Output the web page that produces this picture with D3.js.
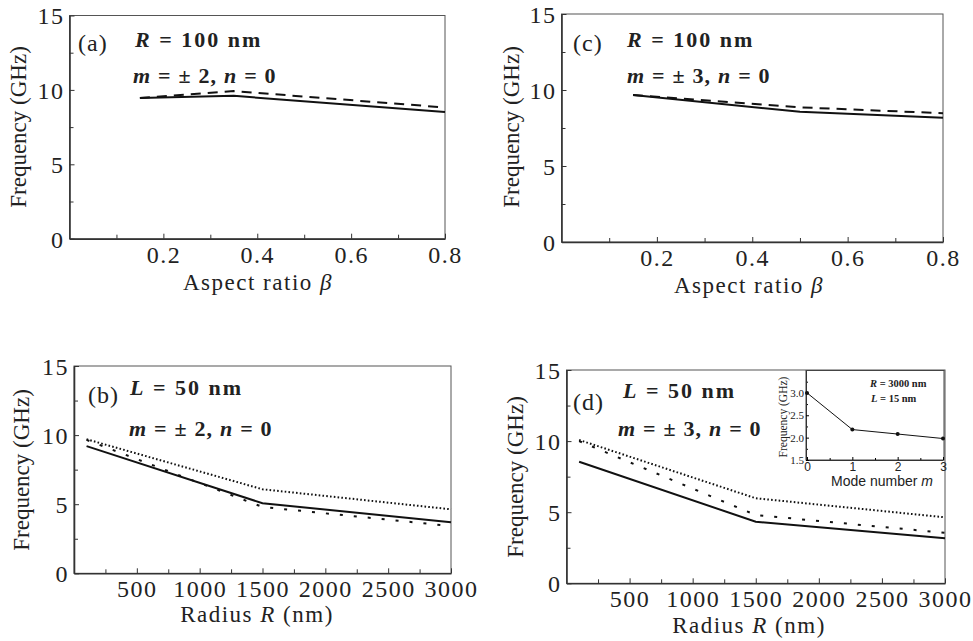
<!DOCTYPE html>
<html>
<head>
<meta charset="utf-8">
<script src="https://cdn.jsdelivr.net/npm/d3@7"></script>
<style>
  body { margin: 0; background: #fff; }
  text { font-family: "Liberation Serif", "Times New Roman", serif; fill: #222; }
  .sans { font-family: "Liberation Sans", Arial, sans-serif; }
</style>
</head>
<body>
<svg width="973" height="641"></svg>
<script>
// ---- data ----
var betaA = [0.15, 0.35, 0.8];
var solidA = [9.45, 9.6, 8.52];
var dashA = [9.45, 9.92, 8.82];

var betaC = [0.15, 0.5, 0.8];
var solidC = [9.67, 8.57, 8.18];
var dashC = [9.67, 8.86, 8.47];

var radius = [100, 1500, 3000];
var solidB = [9.2, 5.07, 3.7];
var dotB = [9.7, 6.08, 4.63];
var sparseB = [9.65, 4.8, 3.42];

var solidD = [8.55, 4.33, 3.16];
var dotD = [10.08, 5.98, 4.64];
var sparseD = [10.0, 4.8, 3.55];

var modeM = [0, 1, 2, 3];
var insetF = [3.0, 2.18, 2.08, 1.98];

var freqTicks = [0, 5, 10, 15];
var betaTicks = [0.2, 0.4, 0.6, 0.8];
var radiusTicks = [500, 1000, 1500, 2000, 2500, 3000];

function main(){
    var svg = d3.select("svg");

    var styles = {
        solid: null,
        dash: "10,7",
        dot: "1.6,2.2",
        sparse: "3,11"
    };

    function panel(box, xDomain, xMajor, xMinor, xFmt, xTitle, series, labels){
        var x = d3.scaleLinear().domain(xDomain).range([box.left, box.right]),
            y = d3.scaleLinear().domain([0, 15]).range([box.bottom, box.top]);
        var g = svg.append("g");

        // frame
        g.append("rect")
            .attr("x", box.left).attr("y", box.top)
            .attr("width", box.right - box.left)
            .attr("height", box.bottom - box.top)
            .attr("fill", "none").attr("stroke", "#555").attr("stroke-width", 1);

        // minor ticks
        g.append("g")
            .attr("transform", "translate(0," + box.bottom + ")")
            .call(d3.axisBottom(x).tickValues(xMinor).tickSizeInner(-4).tickSizeOuter(0).tickFormat(""))
            .call(function(a){ a.select(".domain").remove(); a.selectAll("line").attr("stroke", "#333"); });
        g.append("g")
            .attr("transform", "translate(" + box.left + ",0)")
            .call(d3.axisLeft(y).tickValues([2.5, 7.5, 12.5]).tickSizeInner(-4).tickSizeOuter(0).tickFormat(""))
            .call(function(a){ a.select(".domain").remove(); a.selectAll("line").attr("stroke", "#333"); });

        // major axes
        var xa = g.append("g")
            .attr("transform", "translate(0," + box.bottom + ")")
            .call(d3.axisBottom(x).tickValues(xMajor).tickSizeInner(-5).tickSizeOuter(0).tickPadding(6).tickFormat(xFmt));
        var ya = g.append("g")
            .attr("transform", "translate(" + box.left + ",0)")
            .call(d3.axisLeft(y).tickValues(freqTicks).tickSizeInner(-5).tickSizeOuter(0).tickPadding(5));
        [xa, ya].forEach(function(a){
            a.select(".domain").attr("stroke", "#333").attr("stroke-width", 1.6);
            a.selectAll("line").attr("stroke", "#333");
            a.selectAll("text")
                .attr("font-family", "Liberation Serif")
                .attr("font-size", 24)
                .attr("letter-spacing", 1.5)
                .attr("fill", "#222");
        });
        xa.selectAll("text").attr("dy", "0.75em");
        ya.selectAll("text").attr("dy", "0.35em");

        // axis titles
        g.append("text")
            .attr("x", box.xTitleX).attr("y", box.xTitleY)
            .attr("text-anchor", "middle")
            .attr("font-size", 23).attr("letter-spacing", 1.5)
            .html(xTitle);
        g.append("text")
            .attr("transform", "translate(" + box.yTitleX + "," + box.yTitleY + ") rotate(-90)")
            .attr("text-anchor", "middle")
            .attr("font-size", 23)
            .text("Frequency (GHz)");

        // lines
        var line = d3.line().x(function(d){ return x(d[0]); }).y(function(d){ return y(d[1]); });
        series.forEach(function(s){
            g.append("path")
                .datum(s.xs.map(function(v, i){ return [v, s.ys[i]]; }))
                .attr("d", line)
                .attr("fill", "none")
                .attr("stroke", "#111")
                .attr("stroke-width", s.width || 2)
                .attr("stroke-dasharray", styles[s.style]);
        });

        // annotations
        labels.forEach(function(l){
            g.append("text")
                .attr("x", l.x).attr("y", l.y)
                .attr("font-size", l.size || 22)
                .attr("font-weight", l.bold ? "bold" : null)
                .attr("letter-spacing", l.ls === undefined ? 2 : l.ls)
                .html(l.html);
        });
        return g;
    }

    var betaMinor = [0.1, 0.3, 0.5, 0.7];
    var radiusMinor = [250, 750, 1250, 1750, 2250, 2750];
    var betaFmt = d3.format(".1f"), radiusFmt = d3.format("d");
    var betaTitle = "Aspect ratio <tspan font-style='italic'>β</tspan>",
        radiusTitle = "Radius <tspan font-style='italic'>R</tspan> (nm)";

    // (a)
    panel({left: 69.5, right: 445, top: 15.5, bottom: 238.7,
           xTitleX: 258, xTitleY: 290, yTitleX: 26, yTitleY: 127},
        [0, 0.8], betaTicks, betaMinor, betaFmt, betaTitle,
        [{xs: betaA, ys: dashA, style: "dash"},
         {xs: betaA, ys: solidA, style: "solid"}],
        [{x: 78, y: 51, size: 24, html: "(a)", ls: 1},
         {x: 135, y: 47, bold: true, html: "<tspan font-style='italic'>R</tspan> = 100 nm"},
         {x: 133, y: 83, bold: true, ls: 1.2, html: "<tspan font-style='italic'>m</tspan> = ± 2, <tspan font-style='italic'>n</tspan> = 0"}]);

    // (c)
    panel({left: 561.5, right: 943, top: 14, bottom: 242,
           xTitleX: 749, xTitleY: 293, yTitleX: 519, yTitleY: 127},
        [0, 0.8], betaTicks, betaMinor, betaFmt, betaTitle,
        [{xs: betaC, ys: dashC, style: "dash"},
         {xs: betaC, ys: solidC, style: "solid"}],
        [{x: 573, y: 51, size: 24, html: "(c)", ls: 1},
         {x: 627, y: 47, bold: true, html: "<tspan font-style='italic'>R</tspan> = 100 nm"},
         {x: 627, y: 83, bold: true, ls: 1.2, html: "<tspan font-style='italic'>m</tspan> = ± 3, <tspan font-style='italic'>n</tspan> = 0"}]);

    // (b)
    panel({left: 74, right: 451, top: 366, bottom: 573.3,
           xTitleX: 257, xTitleY: 622, yTitleX: 29, yTitleY: 470},
        [0, 3000], radiusTicks, radiusMinor, radiusFmt, radiusTitle,
        [{xs: radius, ys: dotB, style: "dot"},
         {xs: radius, ys: sparseB, style: "sparse"},
         {xs: radius, ys: solidB, style: "solid"}],
        [{x: 88, y: 403, size: 24, html: "(b)", ls: 1},
         {x: 130, y: 395, bold: true, html: "<tspan font-style='italic'>L</tspan> = 50 nm"},
         {x: 129, y: 436, bold: true, ls: 1.2, html: "<tspan font-style='italic'>m</tspan> = ± 2, <tspan font-style='italic'>n</tspan> = 0"}]);

    // (d)
    panel({left: 566.5, right: 945, top: 370, bottom: 583.3,
           xTitleX: 749, xTitleY: 633, yTitleX: 523, yTitleY: 477},
        [0, 3000], radiusTicks, radiusMinor, radiusFmt, radiusTitle,
        [{xs: radius, ys: dotD, style: "dot"},
         {xs: radius, ys: sparseD, style: "sparse"},
         {xs: radius, ys: solidD, style: "solid"}],
        [{x: 573, y: 410, size: 24, html: "(d)", ls: 1},
         {x: 623, y: 398, bold: true, html: "<tspan font-style='italic'>L</tspan> = 50 nm"},
         {x: 618, y: 436, bold: true, ls: 1.2, html: "<tspan font-style='italic'>m</tspan> = ± 3, <tspan font-style='italic'>n</tspan> = 0"}]);

    // inset in (d)
    var ib = {left: 806, right: 944, top: 370.5, bottom: 460};
    var ix = d3.scaleLinear().domain([0, 3]).range([ib.left + 1, ib.right - 1]),
        iy = d3.scaleLinear().domain([1.5, 3.5]).range([ib.bottom, ib.top]);
    var ig = svg.append("g");
    ig.append("rect")
        .attr("x", ib.left).attr("y", ib.top)
        .attr("width", ib.right - ib.left).attr("height", ib.bottom - ib.top)
        .attr("fill", "#fff").attr("stroke", "#444").attr("stroke-width", 1);
    ig.append("g")
        .attr("transform", "translate(0," + ib.bottom + ")")
        .call(d3.axisBottom(ix).tickValues([0.5, 1.5, 2.5]).tickSizeInner(-2).tickSizeOuter(0).tickFormat(""))
        .call(function(a){ a.select(".domain").remove(); });
    ig.append("g")
        .attr("transform", "translate(" + ib.left + ",0)")
        .call(d3.axisLeft(iy).tickValues([1.75, 2.25, 2.75, 3.25]).tickSizeInner(-2).tickSizeOuter(0).tickFormat(""))
        .call(function(a){ a.select(".domain").remove(); });
    var ixa = ig.append("g")
        .attr("transform", "translate(0," + ib.bottom + ")")
        .call(d3.axisBottom(ix).tickValues(modeM).tickSizeInner(-3).tickSizeOuter(0).tickPadding(2).tickFormat(d3.format("d")));
    ixa.selectAll("text").attr("class", "sans").attr("font-size", 12).attr("font-family", "Liberation Sans").attr("fill", "#222");
    var iya = ig.append("g")
        .attr("transform", "translate(" + ib.left + ",0)")
        .call(d3.axisLeft(iy).tickValues([1.5, 2.0, 2.5, 3.0]).tickSizeInner(-3).tickSizeOuter(0).tickPadding(2).tickFormat(d3.format(".1f")));
    iya.selectAll("text").attr("font-size", 11).attr("font-family", "Liberation Serif").attr("fill", "#222");
    [ixa, iya].forEach(function(a){ a.select(".domain").attr("stroke", "#333"); });

    ig.append("text")
        .attr("class", "sans")
        .attr("x", 882).attr("y", 486)
        .attr("text-anchor", "middle")
        .attr("font-size", 14)
        .html("Mode number <tspan font-style='italic'>m</tspan>");
    ig.append("text")
        .attr("transform", "translate(787,417) rotate(-90)")
        .attr("text-anchor", "middle")
        .attr("font-size", 11.5)
        .text("Frequency (GHz)");
    ig.append("text")
        .attr("x", 870).attr("y", 387)
        .attr("font-size", 10.5).attr("font-weight", "bold")
        .html("<tspan font-style='italic'>R</tspan> = 3000 nm");
    ig.append("text")
        .attr("x", 871).attr("y", 402)
        .attr("font-size", 10.5).attr("font-weight", "bold")
        .html("<tspan font-style='italic'>L</tspan> = 15 nm");

    var iline = d3.line().x(function(d){ return ix(d[0]); }).y(function(d){ return iy(d[1]); });
    var ipts = modeM.map(function(m, i){ return [m, insetF[i]]; });
    ig.append("path")
        .datum(ipts)
        .attr("d", iline)
        .attr("fill", "none").attr("stroke", "#111").attr("stroke-width", 1);
    ig.selectAll(".pt")
        .data(ipts)
        .enter().append("circle")
        .attr("class", "pt")
        .attr("cx", function(d){ return ix(d[0]); })
        .attr("cy", function(d){ return iy(d[1]); })
        .attr("r", 2)
        .attr("fill", "#111");
}
main();
</script>
</body>
</html>
